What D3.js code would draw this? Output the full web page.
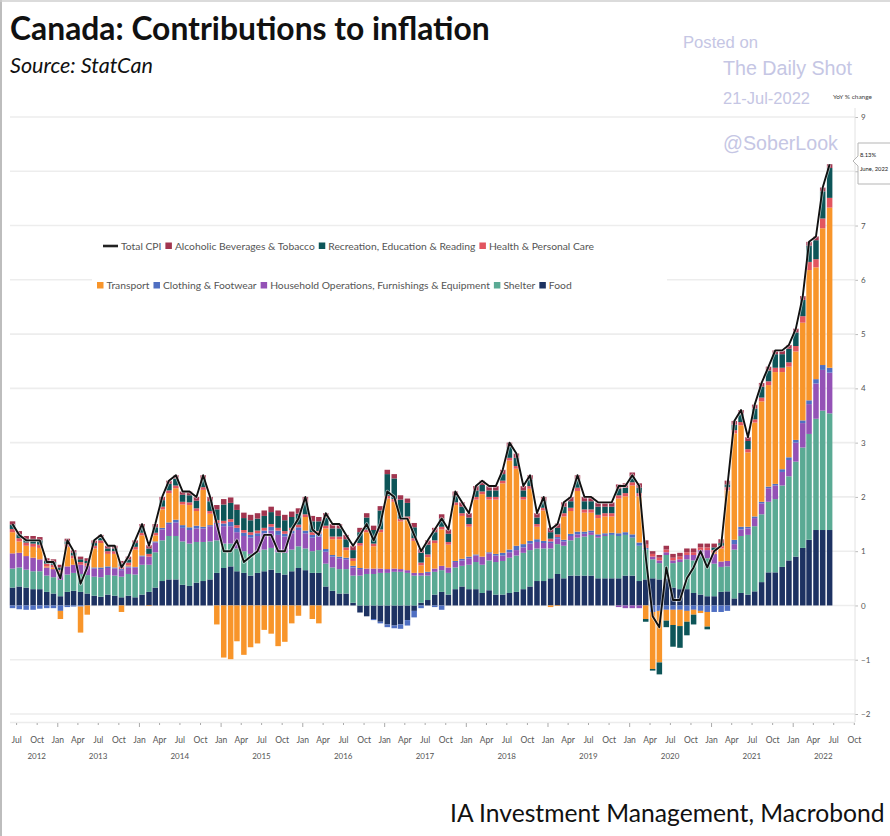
<!DOCTYPE html>
<html><head><meta charset="utf-8">
<script src="https://cdn.jsdelivr.net/npm/d3@7"></script>
<style>body{margin:0;background:#fff}svg{display:block}</style>
</head><body>
<svg id="c" width="890" height="836"></svg>
<script>
// ---------------- DATA (monthly, Jun 2012 .. Jun 2022), contributions in % pts ----------------
const firstMonth = [2012, 5]; // June 2012 (JS month index)
const totalCPI = [
 1.5,1.3,1.2,1.2,1.2,0.8,0.8,
 0.5,1.2,1.0,0.4,0.7,1.2,1.3,1.1,1.1,0.7,0.9,1.2,
 1.5,1.1,1.5,2.0,2.3,2.4,2.1,2.1,2.0,2.4,2.0,1.5,
 1.0,1.0,1.2,0.8,0.9,1.0,1.3,1.3,1.0,1.0,1.4,1.6,
 2.0,1.4,1.3,1.7,1.5,1.5,1.3,1.1,1.3,1.5,1.2,1.5,
 2.1,2.0,1.6,1.6,1.3,1.0,1.2,1.4,1.6,1.4,2.1,1.9,
 1.7,2.2,2.3,2.2,2.2,2.5,3.0,2.8,2.2,2.4,1.7,2.0,
 1.4,1.5,1.9,2.0,2.4,2.0,2.0,1.9,1.9,1.9,2.2,2.2,
 2.4,2.2,0.9,-0.2,-0.4,0.7,0.1,0.1,0.5,0.7,1.0,0.7,
 1.0,1.1,2.2,3.4,3.6,3.1,3.7,4.1,4.4,4.7,4.7,4.8,
 5.1,5.7,6.7,6.8,7.7,8.13];
const food = [
 .33,.35,.33,.30,.30,.25,.22,
 .17,.25,.27,.25,.22,.18,.16,.20,.18,.15,.18,.15,
 .20,.25,.33,.45,.48,.48,.38,.36,.42,.45,.48,.60,
 .69,.72,.63,.60,.55,.60,.63,.66,.60,.57,.63,.69,
 .65,.60,.60,.35,.27,.22,.22,.05,-.13,-.20,-.25,-.30,
 -.35,-.37,-.35,-.27,-.10,.05,.10,.20,.25,.20,.30,.35,
 .30,.30,.23,.28,.20,.20,.23,.25,.30,.35,.45,.45,
 .50,.58,.50,.55,.55,.55,.55,.50,.50,.50,.50,.55,
 .55,.45,.48,.50,.48,.50,.33,.30,.30,.23,.20,.17,
 .17,.25,.26,.13,.23,.20,.26,.43,.61,.61,.71,.83,
 .90,1.06,1.21,1.39,1.39,1.39];
const shelter = [
 .35,.35,.33,.33,.33,.30,.30,
 .30,.32,.33,.33,.34,.35,.36,.36,.37,.38,.40,.42,
 .55,.50,.65,.75,.80,.80,.80,.78,.75,.72,.70,.60,
 .45,.42,.42,.40,.40,.38,.40,.40,.38,.40,.40,.40,
 .40,.40,.42,.42,.43,.45,.45,.50,.55,.58,.58,.60,
 .60,.62,.62,.60,.55,.50,.45,.42,.40,.40,.40,.38,
 .45,.50,.52,.55,.60,.62,.65,.67,.67,.67,.60,.60,
 .55,.55,.60,.65,.70,.72,.75,.75,.78,.80,.78,.75,
 .70,.65,.55,.35,.30,.43,.45,.50,.55,.60,.70,.70,
 .60,.46,.46,.90,1.05,1.10,1.20,1.25,1.30,1.35,1.50,1.55,
 1.75,1.85,1.95,2.05,2.20,2.15];
const household = [
 .28,.27,.25,.25,.22,.15,.15,
 .13,.15,.15,.17,.17,.15,.15,.13,.13,.12,.12,.13,
 .15,.15,.18,.20,.22,.25,.25,.25,.25,.25,.28,.30,
 .32,.32,.30,.28,.30,.30,.30,.32,.32,.30,.30,.30,
 .28,.25,.25,.22,.20,.20,.18,.15,.12,.10,.10,.08,
 .07,.06,.05,.05,.05,.05,.05,.06,.08,.10,.10,.10,
 .12,.12,.15,.13,.12,.10,.10,.10,.10,.12,.12,.10,
 .10,.10,.08,.08,.06,.05,.05,.03,.02,.00,-.03,-.05,
 -.05,-.05,.00,.05,.05,.05,.05,.05,.08,.10,.12,.15,
 .18,.10,.10,.10,.12,.12,.15,.20,.25,.25,.25,.30,
 .35,.45,.55,.65,.75,.75];
const clothing = [
 -.05,-.07,-.08,-.08,-.06,-.05,-.05,
 -.10,-.03,-.02,-.02,.00,.02,.03,.03,.02,.02,.02,.01,
 .02,.00,.02,.03,.03,.05,.05,.05,.05,.03,.02,.02,
 .05,.08,.08,.06,.05,.05,.05,.07,.08,.05,.05,.05,
 .05,.05,.05,.05,.03,.03,.03,.03,.02,.00,-.02,-.03,
 -.05,-.05,-.08,-.10,-.12,-.05,.02,-.03,-.08,.00,.02,.03,
 .03,.02,.00,.02,.03,.05,.05,.08,.06,.05,.05,.04,
 .03,.03,.03,.04,.05,.04,.03,.03,.03,.04,.05,.05,
 .06,.06,.03,-.12,-.10,-.08,-.08,-.08,-.10,-.08,-.10,-.12,
 -.12,-.12,-.10,.08,.05,.03,.03,.03,.03,.03,.05,.05,
 .05,.05,.07,.08,.09,.09];
const transport = [
 .39,.21,.19,.20,.21,.02,.03,
 -.15,.36,.12,-.48,-.17,.35,.45,.23,.25,-.12,.02,.32,
 .37,-.01,.11,.34,.54,.58,.38,.41,.27,.68,.21,-.35,
 -.96,-.99,-.66,-.91,-.77,-.70,-.45,-.52,-.75,-.67,-.33,-.19,
 .25,-.25,-.33,.38,.29,.32,.14,.09,.41,.67,.41,.67,
 1.30,1.23,.88,.94,.59,.14,.27,.47,.67,.42,1.03,.79,
 .55,1.01,1.15,.97,1.00,1.28,1.64,1.42,.82,.96,.23,.56,
 -.03,-.01,.43,.42,.75,.35,.33,.30,.31,.30,.64,.66,
 .90,.85,-.25,-1.05,-.95,-.20,-.28,-.30,-.20,-.09,-.04,-.27,
 .02,.24,1.30,1.96,1.87,1.37,1.73,1.85,1.87,2.06,1.79,1.67,
 1.63,1.80,2.40,2.06,2.52,2.95];
const health = [
 .06,.06,.06,.06,.06,.05,.05,
 .05,.05,.05,.05,.05,.05,.05,.05,.05,.05,.05,.05,
 .05,.05,.05,.05,.05,.05,.05,.05,.05,.05,.05,.05,
 .05,.05,.05,.05,.05,.05,.05,.05,.05,.05,.05,.05,
 .05,.05,.05,.05,.05,.05,.05,.05,.05,.05,.05,.05,
 .05,.05,.05,.05,.05,.05,.05,.05,.05,.05,.05,.05,
 .05,.05,.05,.05,.05,.05,.05,.05,.05,.05,.05,.05,
 .05,.05,.06,.06,.06,.06,.06,.06,.06,.06,.06,.06,
 .06,.06,.06,.05,.05,.05,.05,.05,.05,.05,.05,.05,
 .05,.05,.06,.06,.06,.06,.06,.07,.07,.08,.08,.08,
 .10,.12,.15,.15,.18,.18];
const recreation = [
 .08,.07,.06,.08,.08,.05,.05,
 .05,.05,.05,.05,.04,.05,.05,.05,.05,.05,.06,.07,
 .10,.10,.10,.12,.12,.13,.13,.13,.14,.15,.18,.20,
 .30,.30,.28,.22,.22,.22,.22,.22,.22,.20,.20,.20,
 .22,.20,.18,.15,.15,.15,.15,.15,.20,.22,.25,.35,
 .40,.38,.35,.25,.20,.18,.18,.15,.15,.15,.12,.12,
 .12,.12,.12,.12,.12,.12,.20,.15,.12,.12,.12,.12,
 .12,.12,.12,.12,.15,.15,.15,.15,.12,.12,.12,.10,
 .10,.10,-.05,-.03,-.22,-.12,-.40,-.40,-.25,-.18,.00,-.05,
 .05,.05,.05,.10,.15,.15,.20,.20,.20,.25,.25,.25,
 .25,.30,.30,.35,.50,.55];
const alcohol = [
 .06,.06,.06,.06,.06,.05,.05,
 .05,.05,.05,.05,.05,.05,.05,.05,.05,.05,.05,.05,
 .06,.06,.06,.06,.06,.06,.06,.07,.07,.07,.08,.08,
 .10,.10,.10,.10,.10,.10,.10,.10,.10,.10,.10,.10,
 .10,.10,.08,.08,.08,.08,.08,.08,.08,.08,.08,.08,
 .08,.08,.08,.08,.08,.08,.08,.08,.08,.08,.08,.08,
 .08,.08,.08,.08,.08,.08,.08,.08,.08,.08,.08,.08,
 .08,.08,.08,.08,.08,.08,.08,.08,.08,.08,.08,.08,
 .08,.08,.08,.05,.05,.07,.07,.07,.07,.07,.07,.07,
 .07,.07,.07,.07,.07,.07,.07,.07,.07,.07,.07,.07,
 .07,.07,.07,.07,.07,.07];

const seriesKeys = ["food","shelter","household","clothing","transport","health","recreation","alcohol"];
const seriesNames = {
  alcohol:"Alcoholic Beverages & Tobacco", recreation:"Recreation, Education & Reading",
  health:"Health & Personal Care", transport:"Transport", clothing:"Clothing & Footwear",
  household:"Household Operations, Furnishings & Equipment", shelter:"Shelter", food:"Food"};
const seriesColors = {
  food:"#1d3262", shelter:"#5aaa94", household:"#9452b6", clothing:"#4f6fc2",
  transport:"#f8952a", health:"#e2555f", recreation:"#0d5558", alcohol:"#a1354f"};
const legendRow1 = ["total","alcohol","recreation","health"];
const legendRow2 = ["transport","clothing","household","shelter","food"];
const yTicks = [-2,-1,0,1,2,3,4,5,6,7,8,9];
const yearLabels = [2012,2013,2014,2015,2016,2017,2018,2019,2020,2021,2022];
const tooltipLines = ["8.13%","June, 2022"];

// ---------------- BUILD ----------------
const series = {food,shelter,household,clothing,transport,health,recreation,alcohol};
const rows = totalCPI.map((t,i)=>{
  const r = {date:new Date(firstMonth[0], firstMonth[1]+i, 15), total:t};
  seriesKeys.forEach(k=>r[k]=series[k][i]);
  return r;
});

const svg = d3.select("#c");
const W=890,H=836;
const axisStart = new Date(2012,6,1), axisEnd = new Date(2022,9,1);
const x = d3.scaleTime().domain([axisStart, axisEnd]).range([16.1, 853.8]);
const y = d3.scaleLinear().domain([-2,9]).range([714,117]);
const plotL = 10, plotR = 855;

// frame
svg.append("line").attr("x1",1).attr("x2",1).attr("y1",0).attr("y2",H).attr("stroke","#bdbdbd").attr("stroke-width",2);
svg.append("line").attr("x1",0).attr("x2",W).attr("y1",1).attr("y2",1).attr("stroke","#cfcfcf").attr("stroke-width",1.5);

// gridlines
svg.append("g").selectAll("line").data(yTicks).join("line")
  .attr("x1",plotL).attr("x2",plotR).attr("y1",d=>y(d)).attr("y2",d=>y(d))
  .attr("stroke","#ededed").attr("stroke-width",1.6);

// right axis (the "8" label sits under the value callout, as in the original)
const ra = svg.append("g").attr("transform",`translate(${plotR},0)`)
  .call(d3.axisRight(y).tickValues(yTicks).tickSize(3).tickSizeOuter(0).tickFormat(d=>d===8?"":d3.format("d")(d)));
ra.select(".domain").remove();
ra.selectAll(".tick line").attr("stroke","#bbb");
ra.selectAll(".tick text").attr("font-family","Lato, 'Open Sans', sans-serif").attr("font-size",8).attr("fill","#555").attr("x",6);
svg.append("line").attr("x1",plotR).attr("x2",plotR).attr("y1",108).attr("y2",722).attr("stroke","#e2e2e2").attr("stroke-width",1);
svg.append("text").attr("x",833).attr("y",99).attr("font-family","Lato, sans-serif").attr("font-size",6.5).attr("fill","#444").text("YoY % change");

// bottom axis
svg.append("line").attr("x1",plotL).attr("x2",plotR).attr("y1",722.5).attr("y2",722.5).attr("stroke","#ececec").attr("stroke-width",1.5);
const quarterTicks = d3.timeMonth.every(3).range(axisStart, d3.timeDay.offset(axisEnd,1));
const ba = svg.append("g").attr("transform","translate(0,723)")
  .call(d3.axisBottom(x).tickValues(quarterTicks).tickSize(2).tickSizeOuter(0).tickFormat(d3.timeFormat("%b")));
ba.select(".domain").remove();
ba.selectAll(".tick line").attr("stroke","#aaa").attr("y2",d=>d.getMonth()===0?4:2);
ba.selectAll(".tick text").attr("font-family","Lato, 'Open Sans', sans-serif").attr("font-size",8.5).attr("fill","#555").attr("y",14);
svg.append("g").selectAll("text").data(yearLabels).join("text")
  .attr("x",yr=>{const a=new Date(Math.max(+axisStart,+new Date(yr,0,1))); const b=new Date(Math.min(+axisEnd,+new Date(yr+1,0,1))); return (x(a)+x(b))/2;})
  .attr("y",759).attr("text-anchor","middle").attr("font-family","Lato, 'Open Sans', sans-serif").attr("font-size",8).attr("fill","#555").text(d=>d);

// stacked bars
const stack = d3.stack().keys(seriesKeys).offset(d3.stackOffsetDiverging);
const stacked = stack(rows);
const bw = 5.5;
svg.append("g").selectAll("g").data(stacked).join("g").attr("fill",s=>seriesColors[s.key])
  .selectAll("rect").data(s=>s).join("rect")
  .attr("x",d=>x(d.data.date)-bw/2).attr("width",bw)
  .attr("y",d=>y(Math.max(d[0],d[1]))).attr("height",d=>Math.abs(y(d[0])-y(d[1])));

// total CPI line
const lineGen = d3.line().x(d=>x(d.date)).y(d=>y(d.total));
svg.append("path").datum(rows).attr("d",lineGen)
  .attr("fill","none").attr("stroke","#fff").attr("stroke-width",3.4).attr("stroke-opacity",0.6).attr("stroke-linejoin","round");
svg.append("path").datum(rows).attr("d",lineGen)
  .attr("fill","none").attr("stroke","#111").attr("stroke-width",1.9).attr("stroke-linejoin","round");

// legend
const lg = svg.append("g");
lg.append("rect").attr("x",92).attr("y",234).attr("width",575).attr("height",62).attr("fill","#fff");
function drawLegendRow(keys, x0, cy, fs){
  let cx = x0;
  keys.forEach(k=>{
    if(k==="total"){
      lg.append("line").attr("x1",cx).attr("x2",cx+15).attr("y1",cy).attr("y2",cy).attr("stroke","#222").attr("stroke-width",2.6);
      cx += 18;
    } else {
      lg.append("rect").attr("x",cx).attr("y",cy-3.5).attr("width",6.5).attr("height",6.5).attr("fill",seriesColors[k]);
      cx += 9.5;
    }
    const t = lg.append("text").attr("x",cx).attr("y",cy+3.6).attr("font-family","Lato, sans-serif")
      .attr("font-size",fs).attr("fill","#555").text(k==="total"?"Total CPI":seriesNames[k]);
    cx += t.node().getComputedTextLength() + 4;
  });
  return cx;
}
drawLegendRow(legendRow1, 103, 246, 10.3);
drawLegendRow(legendRow2, 97, 285.5, 10.3);

// tooltip callout
svg.append("path").attr("d","M858,143 H892 V184 H858 V166 L853,161 L858,156 Z").attr("fill","#fff").attr("stroke","#b5b5b5").attr("stroke-width",1);
svg.append("g").selectAll("text").data(tooltipLines).join("text")
  .attr("x",860).attr("y",(d,i)=>157+i*14).attr("font-family","Lato, sans-serif").attr("font-size",5.8).attr("fill","#222").text(d=>d);

// titles
function fit(sel, target){ const w = sel.node().getComputedTextLength(); sel.attr("font-size", parseFloat(sel.attr("font-size"))*target/w); }
fit(svg.append("text").attr("x",10).attr("y",40).attr("font-family","Lato, 'Open Sans', sans-serif").attr("font-weight",700)
  .attr("font-size",30).attr("fill","#111").text("Canada: Contributions to inflation"), 480);
fit(svg.append("text").attr("x",10).attr("y",73).attr("font-family","Lato, 'Open Sans', sans-serif").attr("font-style","italic")
  .attr("font-size",18).attr("fill","#111").text("Source: StatCan"), 143);
fit(svg.append("text").attr("x",450).attr("y",822).attr("font-family","Lato, 'Open Sans', sans-serif")
  .attr("font-size",22).attr("fill","#111").text("IA Investment Management, Macrobond"), 435);

// watermark
const wm = "#c5c6e4";
fit(svg.append("text").attr("x",683).attr("y",48).attr("font-family","'Liberation Sans', Arial, sans-serif").attr("font-size",15).attr("fill",wm).text("Posted on"),75);
fit(svg.append("text").attr("x",723).attr("y",75).attr("font-family","'Liberation Sans', Arial, sans-serif").attr("font-size",19).attr("fill",wm).text("The Daily Shot"),129);
fit(svg.append("text").attr("x",723).attr("y",104).attr("font-family","'Liberation Sans', Arial, sans-serif").attr("font-size",16).attr("fill",wm).text("21-Jul-2022"),87);
fit(svg.append("text").attr("x",723).attr("y",150).attr("font-family","'Liberation Sans', Arial, sans-serif").attr("font-size",20).attr("fill",wm).text("@SoberLook"),115);
</script>
</body></html>
